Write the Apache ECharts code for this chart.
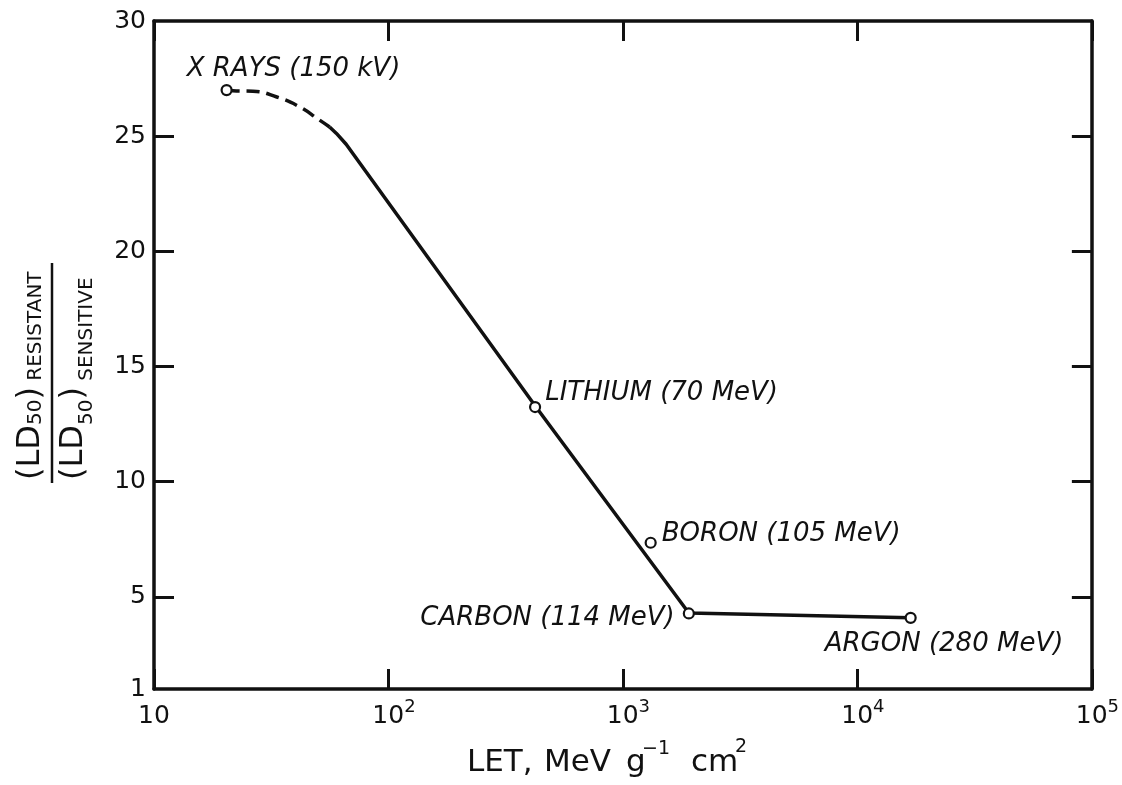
<!DOCTYPE html>
<html>
<head>
<meta charset="utf-8">
<script src="https://cdn.jsdelivr.net/npm/echarts@6/dist/echarts.min.js"></script>
<style>
html,body{margin:0;padding:0;background:#fff;}
#chart{width:1122px;height:785px;}
</style>
</head>
<body>
<div id="chart"></div>
<script>
// ---- data ----
const pointNames = ['X RAYS (150 kV)', 'LITHIUM (70 MeV)', 'BORON (105 MeV)', 'CARBON (114 MeV)', 'ARGON (280 MeV)'];
const pointLET = [20.4, 422, 1313, 1910, 16870];
const pointRatio = [27.0, 13.24, 7.35, 4.28, 4.09];

// dashed (extrapolated) part of the curve
const dashedLET = [20.4, 21.7, 26.4, 33.4, 41.8, 50.8, 56.1];
const dashedRatio = [27.0, 26.97, 26.95, 26.7, 26.27, 25.7, 25.4];

// solid part of the curve
const solidLET = [56.1, 60, 66, 422, 1910, 16870];
const solidRatio = [25.4, 25.12, 24.65, 13.3, 4.3, 4.09];

const xTickValues = [10, 100, 1000, 10000, 100000];
const xTickLabels = ['10', '10^2', '10^3', '10^4', '10^5'];
const yTickValues = [1, 5, 10, 15, 20, 25, 30];
const yInnerTicks = [5, 10, 15, 20, 25];

// ---- chart ----
const FONT = 'DejaVu Sans';
const INK = '#111';
const chart = echarts.init(document.getElementById('chart'), null, {renderer: 'canvas'});

const cv = document.createElement('canvas').getContext('2d');
function measure(txt, fs) { cv.font = fs + 'px "' + FONT + '"'; return cv.measureText(txt).width; }

function xLabel(v) {
  const i = xTickValues.findIndex(t => Math.abs(t - v) / t < 1e-6);
  if (i < 0) return '';
  const s = xTickLabels[i];
  if (s.indexOf('^') < 0) return '{b|' + s + '}';
  const parts = s.split('^');
  return '{p| }{b|' + parts[0] + '}{s|' + parts[1] + '}';
}

const tickStyle = {inside: true, length: 20, lineStyle: {color: INK, width: 3}};
const lineStyle = {lineStyle: {color: INK, width: 3.5}};

const labelPlacement = [
  {position: 'right', offset: [-46, -21]},
  {position: 'right', offset: [4, -14]},
  {position: 'right', offset: [5, -8]},
  {position: 'left', offset: [-8, 5]},
  {position: 'right', offset: [-92, 26]}
];

// rotated y-axis title pieces (fraction)
function chain(pieces, startU) {
  let u = startU;
  const out = [];
  pieces.forEach(p => {
    out.push({
      type: 'text',
      x: u, y: p.base - 0.297 * p.fs,
      style: {text: p.t, fontSize: p.fs, fontFamily: FONT, fill: INK, align: 'left', verticalAlign: 'middle'}
    });
    u += measure(p.t, p.fs);
  });
  return out;
}
const numPieces = [
  {t: '(LD', fs: 32, base: -12}, {t: '50', fs: 20, base: -10},
  {t: ')', fs: 32, base: -12}, {t: ' RESISTANT', fs: 20, base: -10}
];
const denPieces = [
  {t: '(LD', fs: 32, base: 31}, {t: '50', fs: 20, base: 41},
  {t: ')', fs: 32, base: 31}, {t: ' SENSITIVE', fs: 20, base: 41}
];

const yTitle = {
  type: 'group', x: 52, y: 483, rotation: Math.PI / 2,
  children: [
    {type: 'line', shape: {x1: 0, y1: 0, x2: 220, y2: 0}, style: {stroke: INK, lineWidth: 2.5}}
  ].concat(chain(numPieces, 3)).concat(chain(denPieces, 3))
};

const xNamePieces = [
  {t: 'LET,', x: 467, fs: 31, base: 772},
  {t: 'MeV', x: 544, fs: 31, base: 772},
  {t: 'g', x: 626, fs: 31, base: 772},
  {t: '\u22121', x: 642, fs: 19, base: 755},
  {t: 'cm', x: 691, fs: 31, base: 772},
  {t: '2', x: 735, fs: 19, base: 753}
];
const xTitle = xNamePieces.map(p => ({
  type: 'text', x: p.x, y: p.base - 0.297 * p.fs,
  style: {text: p.t, fontSize: p.fs, fontFamily: FONT, fill: INK, align: 'left', verticalAlign: 'middle'}
}));

const option = {
  backgroundColor: '#fff',
  animation: false,
  grid: {left: 154, right: 28, top: 21, bottom: 96},
  xAxis: [
    {
      type: 'log', logBase: 10, min: 10, max: 100000, position: 'bottom',
      axisLine: lineStyle, axisTick: Object.assign({customValues: xTickValues}, tickStyle),
      splitLine: {show: false}, minorTick: {show: false},
      axisLabel: {
        customValues: xTickValues, margin: 9, formatter: xLabel, color: INK,
        rich: {
          b: {fontSize: 25, fontFamily: FONT, color: INK, padding: [6, 0, 0, 0]},
          s: {fontSize: 18, fontFamily: FONT, color: INK, verticalAlign: 'top'},
          p: {fontSize: 18, fontFamily: FONT, width: 11}
        }
      }
    },
    {
      type: 'log', logBase: 10, min: 10, max: 100000, position: 'top',
      axisLine: lineStyle, axisTick: Object.assign({customValues: xTickValues}, tickStyle),
      splitLine: {show: false}, minorTick: {show: false}, axisLabel: {show: false}
    }
  ],
  yAxis: [
    {
      type: 'value', min: 1, max: 30, position: 'left',
      axisLine: lineStyle, axisTick: Object.assign({customValues: yInnerTicks}, tickStyle),
      splitLine: {show: false},
      axisLabel: {customValues: yTickValues, margin: 8, fontSize: 25, fontFamily: FONT, color: INK}
    },
    {
      type: 'value', min: 1, max: 30, position: 'right',
      axisLine: lineStyle, axisTick: Object.assign({customValues: yInnerTicks}, tickStyle),
      splitLine: {show: false}, axisLabel: {show: false}
    }
  ],
  series: [
    {
      type: 'line', name: 'extrapolated', smooth: true, symbol: 'none', z: 2,
      data: dashedLET.map((x, i) => [x, dashedRatio[i]]),
      lineStyle: {color: INK, width: 3.5, type: [13, 7]}
    },
    {
      type: 'line', name: 'curve', smooth: false, symbol: 'none', z: 2,
      data: solidLET.map((x, i) => [x, solidRatio[i]]),
      lineStyle: {color: INK, width: 3.5}
    },
    {
      type: 'scatter', name: 'beams', z: 5,
      symbol: 'circle', symbolSize: 10,
      itemStyle: {color: '#fff', borderColor: INK, borderWidth: 2.2, opacity: 1},
      data: pointLET.map((x, i) => ({
        value: [x, pointRatio[i]], name: pointNames[i],
        label: Object.assign({show: true, distance: 0}, labelPlacement[i])
      })),
      label: {
        show: true, formatter: p => p.name,
        fontSize: 26, fontStyle: 'italic', fontFamily: FONT, color: INK
      }
    }
  ],
  graphic: [yTitle].concat(xTitle)
};
chart.setOption(option);
</script>
</body>
</html>
